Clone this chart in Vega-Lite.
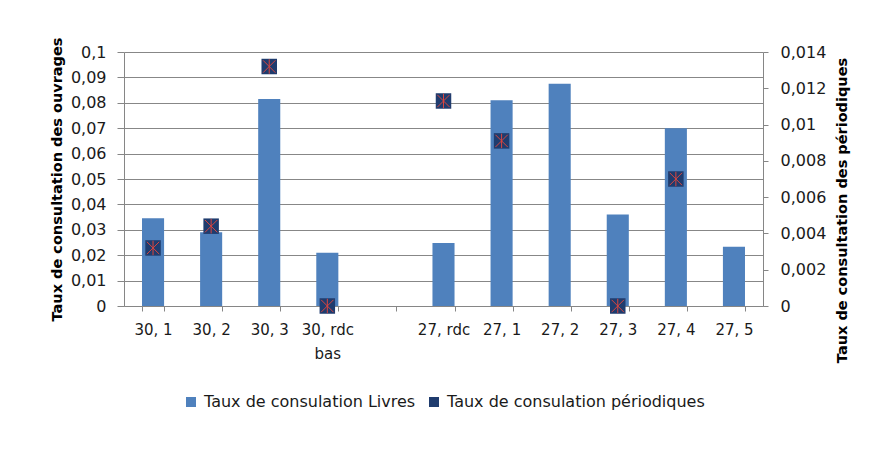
{
  "$schema": "https://vega.github.io/schema/vega-lite/v6.json",
  "width": 639,
  "height": 254,
  "autosize": {"type": "none"},
  "padding": {"left": 124, "top": 52, "right": 107, "bottom": 152},
  "background": "white",
  "config": {
    "font": "DejaVu Sans",
    "view": {"stroke": null},
    "axis": {"labelFont": "DejaVu Sans", "titleFont": "DejaVu Sans", "labelColor": "#1a1a1a", "titleColor": "#000000"}
  },
  "data": {
    "values": [
      {"cat": "30, 1", "livres": 0.0345, "periodiques": 0.0032},
      {"cat": "30, 2", "livres": 0.029, "periodiques": 0.0044},
      {"cat": "30, 3", "livres": 0.0815, "periodiques": 0.0132},
      {"cat": "30, rdc bas", "livres": 0.021, "periodiques": 0},
      {"cat": " ", "livres": null, "periodiques": null},
      {"cat": "27, rdc", "livres": 0.0248, "periodiques": 0.0113},
      {"cat": "27, 1", "livres": 0.081, "periodiques": 0.0091},
      {"cat": "27, 2", "livres": 0.0875, "periodiques": null},
      {"cat": "27, 3", "livres": 0.036, "periodiques": 0},
      {"cat": "27, 4", "livres": 0.07, "periodiques": 0.007},
      {"cat": "27, 5", "livres": 0.0233, "periodiques": null}
    ]
  },
  "encoding": {
    "x": {
      "field": "cat",
      "type": "nominal",
      "scale": {
        "domain": ["30, 1", "30, 2", "30, 3", "30, rdc bas", " ", "27, rdc", "27, 1", "27, 2", "27, 3", "27, 4", "27, 5"],
        "paddingInner": 0.62,
        "paddingOuter": 0.31
      },
      "axis": {
        "title": null,
        "labelAngle": 0,
        "labelFontSize": 15,
        "labelPadding": 11,
        "tickBand": "extent",
        "tickSize": 5,
        "tickColor": "#868686",
        "domainColor": "#868686",
        "grid": false,
        "labelExpr": "datum.label == '30, rdc bas' ? ['30, rdc', 'bas'] : datum.label",
        "labelLineHeight": 24
      }
    }
  },
  "layer": [
    {
      "mark": {"type": "bar"},
      "encoding": {
        "y": {
          "field": "livres",
          "type": "quantitative",
          "scale": {"domain": [0, 0.1], "nice": false},
          "axis": {
            "title": "Taux de consultation des ouvrages",
            "titleFontSize": 14.5,
            "titleFontWeight": "bold",
            "titlePadding": 6,
            "values": [0, 0.01, 0.02, 0.03, 0.04, 0.05, 0.06, 0.07, 0.08, 0.09, 0.1],
            "labelExpr": "replace(format(datum.value, '.2~f'), '.', ',')",
            "labelFontSize": 16,
            "labelPadding": 11,
            "tickSize": 7,
            "tickColor": "#868686",
            "domainColor": "#868686",
            "gridColor": "#878787",
            "gridWidth": 1
          }
        },
        "color": {
          "datum": "Taux de consulation Livres",
          "type": "nominal",
          "scale": {
            "domain": ["Taux de consulation Livres", "Taux de consulation périodiques"],
            "range": ["#4F81BD", "#1F3C6E"]
          },
          "legend": {
            "title": null,
            "orient": "none",
            "legendX": 59,
            "legendY": 342,
            "direction": "horizontal",
            "symbolType": "square",
            "symbolSize": 100,
            "labelFontSize": 16,
            "labelFont": "DejaVu Sans",
            "labelColor": "#1a1a1a",
            "labelLimit": 400,
            "labelOffset": 5,
            "columnPadding": 10,
            "symbolOpacity": 1
          }
        }
      }
    },
    {
      "mark": {"type": "point", "shape": "square", "filled": true, "size": 240, "opacity": 1},
      "encoding": {
        "y": {
          "field": "periodiques",
          "type": "quantitative",
          "scale": {"domain": [0, 0.014], "nice": false},
          "axis": {
            "orient": "right",
            "title": "Taux de consultation des périodiques",
            "titleAngle": 270,
            "titleBaseline": "top",
            "titleFontSize": 14.5,
            "titleFontWeight": "bold",
            "titlePadding": 10,
            "titleY": 158,
            "values": [0, 0.002, 0.004, 0.006, 0.008, 0.01, 0.012, 0.014],
            "labelExpr": "replace(format(datum.value, '.3~f'), '.', ',')",
            "labelFontSize": 16,
            "labelPadding": 12,
            "tickSize": 5,
            "tickColor": "#868686",
            "domainColor": "#868686",
            "grid": false
          }
        },
        "color": {"datum": "Taux de consulation périodiques", "type": "nominal"}
      }
    },
    {
      "mark": {
        "type": "point",
        "shape": "M0,-1L0,1M-0.85,-0.85L0.85,0.85M-0.85,0.85L0.85,-0.85",
        "filled": false,
        "stroke": "#D9453F",
        "strokeWidth": 1,
        "size": 210,
        "opacity": 1
      },
      "encoding": {
        "y": {"field": "periodiques", "type": "quantitative", "scale": {"domain": [0, 0.014], "nice": false}, "axis": null}
      }
    }
  ],
  "resolve": {"scale": {"y": "independent"}}
}
